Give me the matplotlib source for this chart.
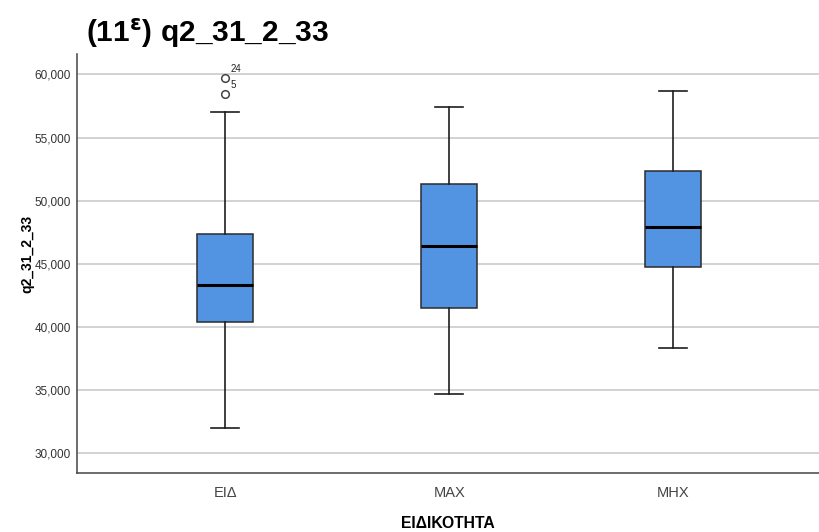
import matplotlib
matplotlib.use("Agg")
import matplotlib.pyplot as plt

plt.rcParams['font.family'] = ['Liberation Sans', 'DejaVu Sans']

categories = ["ΕΙΔ", "ΜΑΧ", "ΜΗΧ"]
whisker_low = [32000, 34700, 38360]
q1 = [40370, 41510, 44710]
median = [43360, 46400, 47880]
q3 = [47330, 51350, 52380]
whisker_high = [57030, 57380, 58680]
outliers = [[59710, 58410], [], []]
outlier_ids = [["24", "5"], [], []]
yticks = [30000, 35000, 40000, 45000, 50000, 55000, 60000]

fig = plt.figure(figsize=(8.19, 5.32), dpi=100)
ax = fig.add_axes([0.0937, 0.1103, 0.9063, 0.7882])

stats = []
for i, c in enumerate(categories):
    stats.append(dict(label=c, whislo=whisker_low[i], q1=q1[i], med=median[i],
                      q3=q3[i], whishi=whisker_high[i], fliers=outliers[i]))

ax.bxp(stats, positions=[1, 2, 3], widths=0.25, patch_artist=True,
       boxprops=dict(facecolor="#5294e2", edgecolor="#2b2b2b", linewidth=1.1),
       medianprops=dict(color="black", linewidth=2.2),
       whiskerprops=dict(color="#1e1e1e", linewidth=1.2),
       capprops=dict(color="#1e1e1e", linewidth=1.2),
       capwidths=0.125,
       flierprops=dict(marker="o", markerfacecolor="white", markeredgecolor="#444444",
                       markersize=5.5, markeredgewidth=1.1),
       zorder=3)

for i, (vals, ids) in enumerate(zip(outliers, outlier_ids)):
    for v, t in zip(vals, ids):
        ax.annotate(t, xy=(i + 1, v), xytext=(4, 3), textcoords="offset points",
                    fontsize=7, color="#222222", ha="left", va="bottom")

ax.set_xlim(0.336, 3.65)
ax.set_ylim(28413, 61611)
ax.set_yticks(yticks)
ax.set_yticklabels([f"{v:,}" for v in yticks])
ax.yaxis.grid(True, color="#d2d2d2", linewidth=1.4, zorder=0)
ax.set_axisbelow(True)
ax.tick_params(axis="y", length=0, labelsize=8.5, labelcolor="#333333", pad=4)
ax.tick_params(axis="x", length=0, labelsize=10.5, labelcolor="#444444", pad=9)
for s in ["top", "right"]:
    ax.spines[s].set_visible(False)
for s in ["left", "bottom"]:
    ax.spines[s].set_color("#444444")
    ax.spines[s].set_linewidth(1.1)

ax.set_xlabel("ΕΙΔΙΚΟΤΗΤΑ", fontsize=11.3, fontweight="bold", labelpad=12)
ax.set_ylabel("q2_31_2_33", fontsize=10, fontweight="bold")
ax.yaxis.set_label_coords(-0.0575, 0.523)

fig.text(0.105, 1 - 42 / 532, r"(11$^{\mathbf{\varepsilon}}$) q2_31_2_33",
         fontsize=21.5, fontweight="bold", ha="left", va="baseline")

fig.savefig("out.png", dpi=100)
